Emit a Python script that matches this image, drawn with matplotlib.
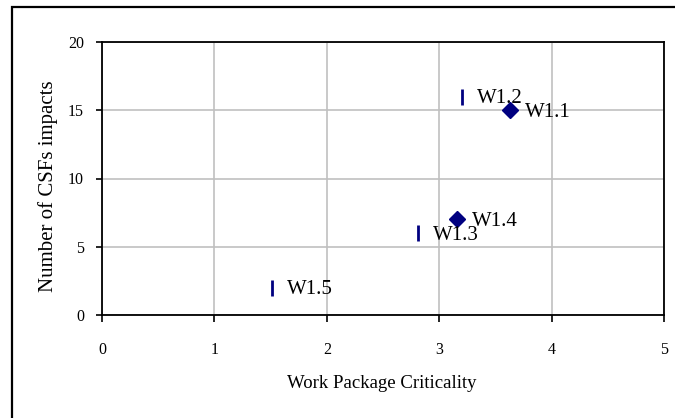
import matplotlib.pyplot as plt
from matplotlib.patches import Rectangle

# Data
diamond_names = ["W1.1", "W1.4"]
diamond_x = [3.63, 3.16]
diamond_y = [15, 7]

dash_names = ["W1.2", "W1.3", "W1.5"]
dash_x = [3.20, 2.81, 1.51]
dash_y = [16, 6, 2]

x_ticks = [0, 1, 2, 3, 4, 5]
y_ticks = [0, 5, 10, 15, 20]

plt.rcParams['font.family'] = ['Liberation Serif', 'DejaVu Serif']
navy = '#000080'

fig = plt.figure(figsize=(6.75, 4.18), dpi=100)
ax = fig.add_axes([102 / 675, 1 - 315 / 418, 562 / 675, 273 / 418])

# outer chart frame
fig.patches.append(Rectangle((12 / 675, -0.2), 1.2, 1 - 7 / 418 + 0.2,
                             transform=fig.transFigure, fill=False,
                             edgecolor='black', linewidth=1.6))

ax.plot(diamond_x, diamond_y, linestyle='none', marker='D', markersize=8,
        color=navy, zorder=3)
ax.plot(dash_x, dash_y, linestyle='none', marker='|', markersize=12,
        markeredgewidth=2, color=navy, zorder=3)

for name, x, y in zip(diamond_names + dash_names, diamond_x + dash_x, diamond_y + dash_y):
    ax.annotate(name, (x, y), xytext=(11, -1.5), textcoords='offset points',
                va='center', ha='left', fontsize=15, zorder=4)

ax.set_xlim(0, 5)
ax.set_ylim(0, 20)
ax.set_xticks(x_ticks)
ax.set_yticks(y_ticks)
ax.grid(True, color='#c0c0c0', linewidth=1.2)
ax.set_axisbelow(True)
for s in ax.spines.values():
    s.set_linewidth(1.3)
ax.tick_params(axis='x', direction='out', length=5, width=1.2, pad=14.5, labelsize=11.5)
ax.tick_params(axis='y', direction='out', length=4, width=1.2, pad=9, labelsize=11.5)

fig.text(382 / 675, 1 - 384 / 418, 'Work Package Criticality', ha='center',
         va='center', fontsize=13.5)
fig.text(48 / 675, 1 - 186 / 418, 'Number of CSFs impacts', ha='center',
         va='center', rotation=90, fontsize=15)

fig.savefig('out.png', dpi=100)
